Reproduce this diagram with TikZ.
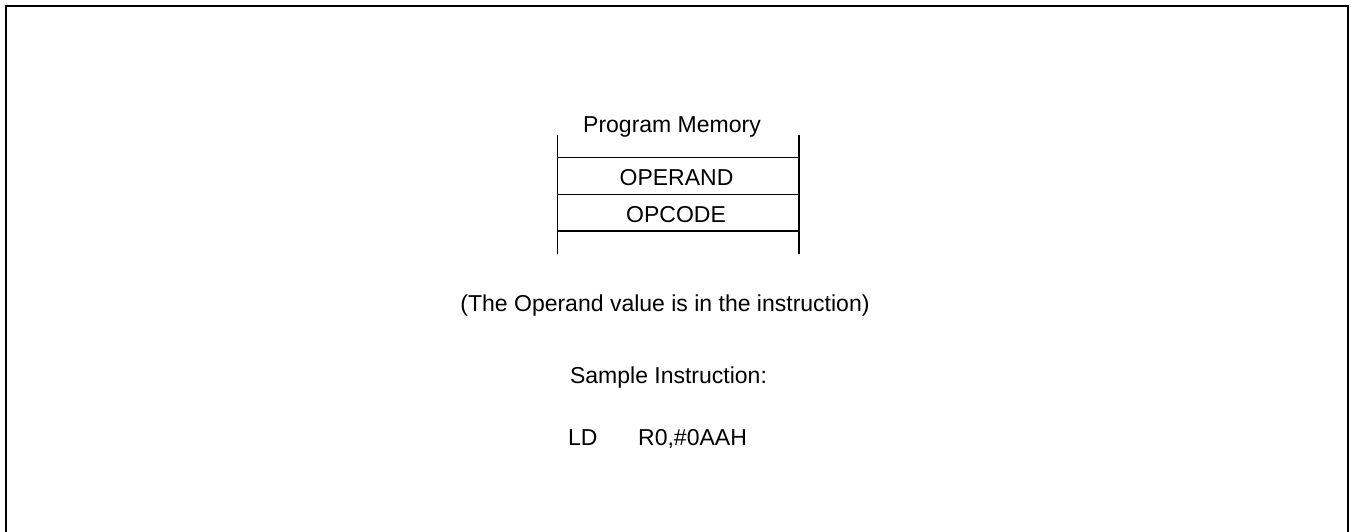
\documentclass[tikz,border=0pt]{standalone}
\usepackage{fontspec}
\setmainfont{Liberation Sans}
\begin{document}
\begin{tikzpicture}[x=1pt,y=-1pt,
  txt/.style={inner sep=0pt,anchor=base,font=\fontsize{23}{27}\selectfont},
  txtw/.style={txt,anchor=base west},
  frame/.style={line width=2pt},
  mem/.style={line width=1.3pt}]
\useasboundingbox (0,0) rectangle (1352,532);
% outer frame (bottom edge lies outside the picture)
\draw[frame] (6,540) -- (6,6.5) -- (1348,6.5) -- (1348,540);
% memory box
\coordinate (tl) at (557.7,135);
\coordinate (bl) at (557.7,254);
\coordinate (tr) at (799,135);
\coordinate (br) at (799,254);
\coordinate (l1) at (557.7,157.7);
\coordinate (r1) at (799,157.7);
\coordinate (l2) at (557.7,194.3);
\coordinate (r2) at (799,194.3);
\coordinate (l3) at (557.7,231);
\coordinate (r3) at (799,231);
\draw[mem] (tl) -- (bl);
\draw[mem] (tr) -- (br);
\draw[mem] (l1) -- (r1);
\draw[mem] (l2) -- (r2);
\draw[mem] (l3) -- (r3);
\node[txt] (pm) at (672,133) {Program Memory};
\node[txt] (opnd) at (676.5,185) {OPERAND};
\node[txt] (opc) at (676,222) {OPCODE};
\node[txt] (note) at (665,311.5) {(The Operand value is in the instruction)};
\node[txt] (sample) at (668.5,383) {Sample Instruction:};
\node[txtw] (ld) at (568,445) {LD};
\node[txtw] (arg) at (638,445) {R0,\#0AAH};
\end{tikzpicture}
\end{document}
